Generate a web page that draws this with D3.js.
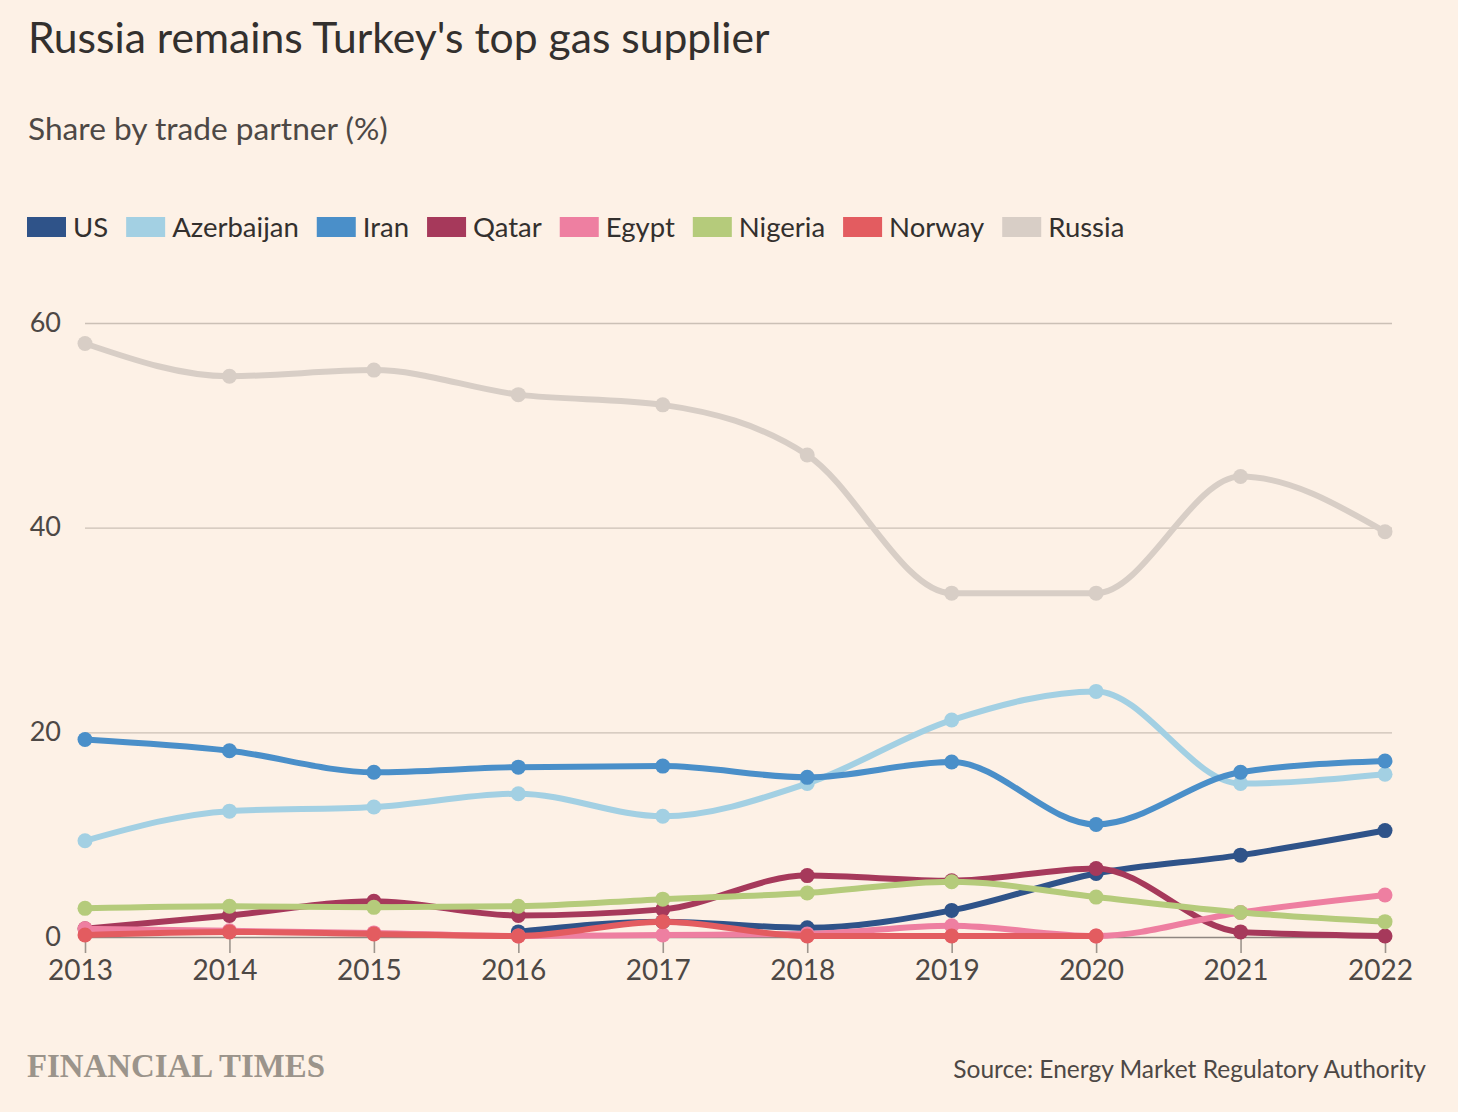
<!DOCTYPE html>
<html><head><meta charset="utf-8">
<script src="https://cdn.jsdelivr.net/npm/d3@7"></script>
<style>
html,body{margin:0;padding:0;background:#fdf1e6;}
svg{display:block;}
</style></head>
<body>
<svg id="chart" width="1458" height="1112"></svg>
<script>
const years = [2013,2014,2015,2016,2017,2018,2019,2020,2021,2022];
const seriesNames = ["US","Azerbaijan","Iran","Qatar","Egypt","Nigeria","Norway","Russia"];
const seriesColors = ["#2f5389","#a3d0e3","#4a8fc9","#a6395b","#ee7fa1","#b5cb7b","#e35c60","#d8cec6"];
const usValues         = [null,null,null,0.5,1.5,0.9,2.6,6.2,8.0,10.4];
const azerbaijanValues = [9.4,12.3,12.7,14.0,11.8,15.0,21.2,24.0,15.0,15.9];
const iranValues       = [19.3,18.2,16.1,16.6,16.7,15.6,17.1,11.0,16.1,17.2];
const qatarValues      = [0.8,2.1,3.5,2.1,2.7,6.0,5.5,6.7,0.5,0.1];
const egyptValues      = [0.8,0.6,0.4,0.1,0.2,0.3,1.1,0.1,2.4,4.1];
const nigeriaValues    = [2.8,3.0,2.9,3.0,3.7,4.3,5.4,3.9,2.4,1.5];
const norwayValues     = [0.2,0.5,0.3,0.1,1.5,0.1,0.1,0.1,null,null];
const russiaValues     = [58.0,54.8,55.4,53.0,52.0,47.1,33.6,33.6,45.0,39.6];
const allValues = [usValues,azerbaijanValues,iranValues,qatarValues,egyptValues,nigeriaValues,norwayValues,russiaValues];
const yTicks = [0,20,40,60];
const titleText = "Russia remains Turkey's top gas supplier";
const subtitleText = "Share by trade partner (%)";
const sourceText = "Source: Energy Market Regulatory Authority";
const brandText = "FINANCIAL TIMES";

const svg = d3.select("#chart");
const W = 1458, H = 1112;
svg.append("rect").attr("width",W).attr("height",H).attr("fill","#fdf1e6");
const sans = "Lato, 'Open Sans', sans-serif";

function fitText(sel, targetW){
  const w = sel.node().getComputedTextLength();
  const fs = parseFloat(sel.attr("font-size"));
  sel.attr("font-size", fs*targetW/w);
}

const title = svg.append("text").attr("x",28).attr("y",53).attr("font-family",sans)
  .attr("font-size",36).attr("fill","#33302e").text(titleText);
fitText(title, 742);
const sub = svg.append("text").attr("x",28).attr("y",140).attr("font-family",sans)
  .attr("font-size",26).attr("fill","#4d4845").text(subtitleText);
fitText(sub, 360);

// legend
const legend = svg.append("g");
let lx = 27;
seriesNames.forEach((n,i)=>{
  legend.append("rect").attr("x",lx).attr("y",217).attr("width",39).attr("height",20).attr("fill",seriesColors[i]);
  const t = legend.append("text").attr("x",lx+46).attr("y",237).attr("font-family",sans)
    .attr("font-size",27.5).attr("fill","#33302e").text(n);
  lx += 46 + t.node().getComputedTextLength() + 18;
});

const x = d3.scaleLinear().domain([2013,2022]).range([85,1385]);
const y = d3.scaleLinear().domain([0,60]).range([937,323]);

// gridlines
const yAxis = d3.axisLeft(y).tickValues(yTicks).tickSize(-(1392-85)).tickFormat(d3.format("d")).tickPadding(24);
const ga = svg.append("g").attr("transform","translate(85,0)").call(yAxis);
ga.select(".domain").remove();
ga.selectAll(".tick line").attr("stroke",d=>d===0?"#8f8680":"#cbc0b6").attr("stroke-width",d=>d===0?1.6:1.3);
ga.selectAll(".tick text").attr("font-family",sans).attr("font-size",27).attr("fill","#4d4845")
  .attr("dy","0.3em");

const xAxis = d3.axisBottom(x).tickValues(years).tickFormat(d3.format("d")).tickSize(16).tickPadding(7);
const gx = svg.append("g").attr("transform","translate(0,937)").call(xAxis);
gx.select(".domain").remove();
gx.selectAll(".tick line").attr("stroke","#9d958d").attr("stroke-width",1.6);
gx.selectAll(".tick text").attr("font-family",sans).attr("font-size",28).attr("fill","#4d4845").attr("dx",-5);

const line = d3.line().defined(d=>d.v!==null).x(d=>x(d.year)).y(d=>y(d.v)).curve(d3.curveMonotoneX);

allValues.forEach((vals,i)=>{
  const pts = years.map((yr,j)=>({year:yr,v:vals[j]}));
  const g = svg.append("g");
  g.append("path").datum(pts).attr("d",line).attr("fill","none")
    .attr("stroke",seriesColors[i]).attr("stroke-width",6).attr("stroke-linejoin","round");
  g.selectAll("circle").data(pts.filter(d=>d.v!==null)).join("circle")
    .attr("cx",d=>x(d.year)).attr("cy",d=>y(d.v)).attr("r",7.5).attr("fill",seriesColors[i]);
});

const brand = svg.append("text").attr("x",27).attr("y",1077).attr("font-family","'Liberation Serif', 'DejaVu Serif', serif")
  .attr("font-weight","bold").attr("font-size",34).attr("fill","#9b948b").text(brandText);
fitText(brand, 298);
const src = svg.append("text").attr("x",1426).attr("y",1078).attr("text-anchor","end").attr("font-family",sans)
  .attr("font-size",22).attr("fill","#4d4845").text(sourceText);
fitText(src, 473);
</script>
</body></html>
